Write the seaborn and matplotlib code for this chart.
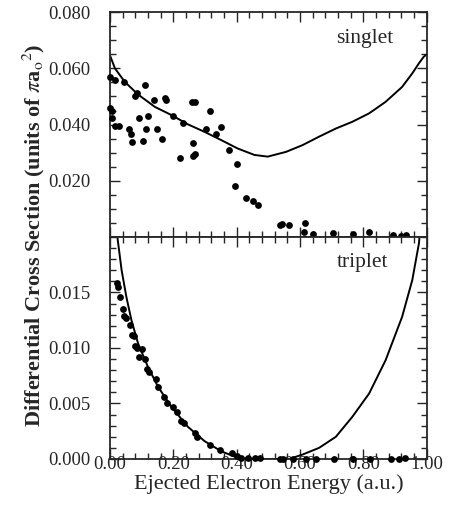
import numpy as np
import pandas as pd
import seaborn as sns
import matplotlib.pyplot as plt
from matplotlib.ticker import MultipleLocator, FixedLocator

# singlet theory curve
sing_curve_x = [0.0, 0.016, 0.047, 0.089, 0.142, 0.194, 0.246, 0.299, 0.351, 0.403, 0.456, 0.498,
                0.556, 0.608, 0.660, 0.713, 0.765, 0.818, 0.870, 0.922, 0.954, 0.975, 0.99, 1.0]
sing_curve_y = [0.0647, 0.0600, 0.0552, 0.0507, 0.0463, 0.0434, 0.0401, 0.0374, 0.0345, 0.0315, 0.0292, 0.0286,
                0.0303, 0.0327, 0.0357, 0.0386, 0.0410, 0.0440, 0.0481, 0.0534, 0.0582, 0.0618, 0.0641, 0.0650]

# singlet measured points
sing_x = [0.001, 0.017, 0.043, 0.0, 0.008, 0.008, 0.017, 0.030, 0.059, 0.066, 0.069, 0.078, 0.087, 0.093,
          0.104, 0.111, 0.114, 0.119, 0.139, 0.150, 0.165, 0.174, 0.176, 0.200, 0.221, 0.230, 0.258, 0.270,
          0.263, 0.263, 0.270, 0.303, 0.316, 0.336, 0.349, 0.376, 0.401, 0.394, 0.431, 0.450, 0.467, 0.536,
          0.544, 0.565, 0.617, 0.614, 0.640, 0.703, 0.766, 0.819, 0.892, 0.918, 0.934]
sing_y = [0.0568, 0.0559, 0.0553, 0.0459, 0.0447, 0.0424, 0.0394, 0.0394, 0.0385, 0.0365, 0.0338, 0.0500, 0.0514,
          0.0424, 0.0341, 0.0541, 0.0385, 0.0432, 0.0486, 0.0385, 0.0347, 0.0494, 0.0486, 0.0432, 0.0282, 0.0404,
          0.0479, 0.0479, 0.0333, 0.0288, 0.0294, 0.0385, 0.0449, 0.0368, 0.0392, 0.0309, 0.0258, 0.0182, 0.0139,
          0.0129, 0.0114, 0.0041, 0.0047, 0.0044, 0.0051, 0.0018, 0.0012, 0.0015, 0.0012, 0.0018, 0.0008, 0.0004,
          0.0006]

# triplet theory curve
trip_curve_x = [0.024, 0.037, 0.052, 0.068, 0.089, 0.120, 0.152, 0.194, 0.246, 0.299, 0.351, 0.403, 0.456,
                0.566, 0.608, 0.660, 0.713, 0.765, 0.818, 0.870, 0.922, 0.954, 0.975, 0.977]
trip_curve_y = [0.0199, 0.0170, 0.0146, 0.0125, 0.0104, 0.0083, 0.0065, 0.0047, 0.0029, 0.0016, 0.0007, 0.0001,
                0.0, 0.0, 0.0004, 0.0010, 0.0020, 0.0038, 0.0059, 0.0089, 0.0128, 0.0161, 0.0194, 0.0200]

# triplet measured points
trip_x = [0.022, 0.024, 0.032, 0.041, 0.046, 0.050, 0.062, 0.069, 0.077, 0.080, 0.087, 0.093, 0.100, 0.111,
          0.116, 0.122, 0.146, 0.153, 0.171, 0.181, 0.198, 0.211, 0.224, 0.234, 0.268, 0.274, 0.316, 0.347,
          0.384, 0.400, 0.415, 0.436, 0.457, 0.473, 0.536, 0.546, 0.578, 0.620, 0.650, 0.708, 0.766, 0.820,
          0.887, 0.913, 0.932]
trip_y = [0.01586, 0.01548, 0.01458, 0.01348, 0.01289, 0.01274, 0.01205, 0.01116, 0.0111, 0.0102, 0.0100,
          0.0092, 0.0099, 0.0090, 0.0081, 0.0078, 0.0072, 0.0065, 0.0056, 0.0050, 0.0047, 0.0042, 0.0034,
          0.0032, 0.0023, 0.0020, 0.0013, 0.0008, 0.0005, 0.0003, 0.0001, 0.0001, 0.0001, 0.0001, 0.0, 0.0,
          0.0, 0.0, 0.0, 0.0, 0.0, 0.0, 0.0, 0.0, 0.0001]

sns.set_style("ticks")
plt.rcParams['font.family'] = ['Liberation Serif', 'DejaVu Serif']
plt.rcParams['mathtext.fontset'] = 'stix'

fig = plt.figure(figsize=(4.56, 5.08), dpi=100)
ax1 = fig.add_axes([0.241, 0.5335, 0.695, 0.4425])
ax2 = fig.add_axes([0.241, 0.0965, 0.695, 0.437])

sns.lineplot(x=sing_curve_x, y=sing_curve_y, ax=ax1, color='black', lw=1.4, sort=False)
sns.scatterplot(x=sing_x, y=sing_y, ax=ax1, color='black', s=24, linewidth=0, clip_on=False, zorder=5)
sns.lineplot(x=trip_curve_x, y=trip_curve_y, ax=ax2, color='black', lw=1.4, sort=False)
sns.scatterplot(x=trip_x, y=trip_y, ax=ax2, color='black', s=24, linewidth=0, clip_on=False, zorder=5)

ax1.set_xlim(0, 1)
ax1.set_ylim(0, 0.080)
ax2.set_xlim(0, 1)
ax2.set_ylim(0, 0.020)

for ax in (ax1, ax2):
    ax.xaxis.set_major_locator(MultipleLocator(0.2))
    ax.xaxis.set_minor_locator(MultipleLocator(0.04))
    ax.tick_params(which='both', direction='in', top=True, right=True, labelsize=13.5, width=1)
    ax.tick_params(which='major', length=7)
    ax.tick_params(which='minor', length=4)
    ax.tick_params(axis='y', pad=14)
    for sp in ax.spines.values():
        sp.set_linewidth(1.3)

ax1.yaxis.set_major_locator(FixedLocator([0.020, 0.040, 0.060, 0.080]))
ax1.yaxis.set_minor_locator(MultipleLocator(0.005))
ax1.set_yticklabels(['0.020', '0.040', '0.060', '0.080'])
ax1.tick_params(axis='x', labelbottom=False)

ax2.yaxis.set_major_locator(FixedLocator([0.0, 0.005, 0.010, 0.015]))
ax2.yaxis.set_minor_locator(MultipleLocator(0.001))
ax2.set_yticklabels(['0.000', '0.005', '0.010', '0.015'])
ax2.set_xticks([0.0, 0.2, 0.4, 0.6, 0.8, 1.0])
ax2.set_xticklabels(['0.00', '0.20', '0.40', '0.60', '0.80', '1.00'])
ax2.tick_params(axis='x', pad=-2.5)

ax1.text(0.715, 0.0689, 'singlet', fontsize=15.5)
ax2.text(0.715, 0.0173, 'triplet', fontsize=15.5)

fig.text(0.59, 1 - 484 / 508, 'Ejected Electron Energy (a.u.)', ha='center', va='center', fontsize=16)
fig.text(0.075, 0.537, r'Differential Cross Section (units of $\pi$a$_\mathrm{o}$$^2$)',
         rotation=90, ha='center', va='center', fontsize=16, fontweight='bold')

fig.savefig('out.png', dpi=100)
